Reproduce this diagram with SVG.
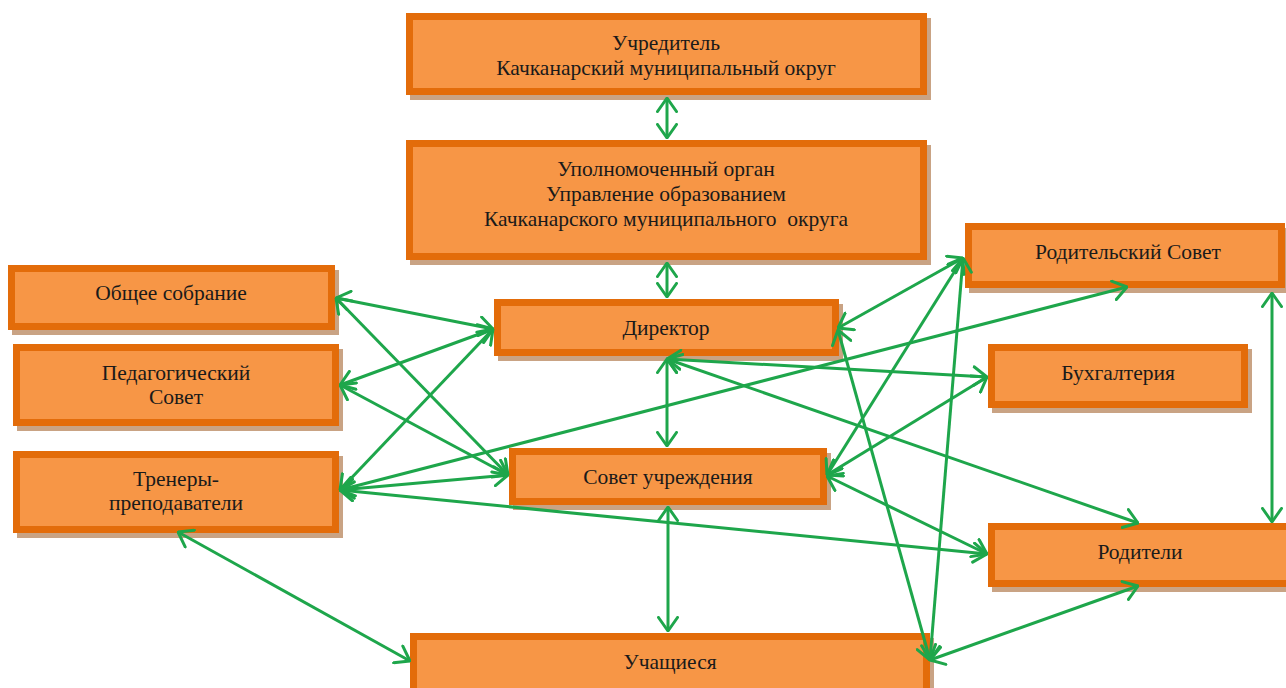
<svg xmlns="http://www.w3.org/2000/svg" width="1286" height="688" viewBox="0 0 1286 688">
<defs>
<style>
.sh{fill:#C9A384;}
.bx{fill:#F79646;stroke:#E36C0A;stroke-width:7;}
.t{font-family:"Liberation Serif","Times New Roman",serif;font-size:21.5px;fill:#1a1a1a;text-anchor:middle;}
.c{stroke:#1EA64B;stroke-width:3;fill:none;marker-start:url(#ah);marker-end:url(#ah);}
</style>
<marker id="ah" viewBox="0 0 16 22" refX="15" refY="11" markerWidth="16" markerHeight="22" markerUnits="userSpaceOnUse" orient="auto-start-reverse">
<path d="M1.5,1.5 L15,11 L1.5,20.5" fill="none" stroke="#1EA64B" stroke-width="3" stroke-linecap="round" stroke-linejoin="round"/>
</marker>
</defs>
<rect width="1286" height="688" fill="#ffffff"/>

<g id="uchreditel">
<rect class="sh" x="410" y="18" width="521" height="82"/>
<rect class="bx" x="409.5" y="16.5" width="514" height="75"/>
<text class="t" x="666" y="50">Учредитель</text>
<text class="t" x="666" y="75">Качканарский муниципальный округ</text>
</g>

<g id="upolnomochenny">
<rect class="sh" x="410" y="145" width="521" height="120"/>
<rect class="bx" x="409.5" y="143.5" width="514" height="113"/>
<text class="t" x="666" y="176">Уполномоченный орган</text>
<text class="t" x="666" y="201">Управление образованием</text>
<text class="t" x="666" y="226" xml:space="preserve">Качканарского муниципального  округа</text>
</g>

<g id="obshchee">
<rect class="sh" x="12" y="270" width="327" height="65"/>
<rect class="bx" x="11.5" y="268.5" width="320" height="58"/>
<text class="t" x="171" y="300">Общее собрание</text>
</g>

<g id="pedsovet">
<rect class="sh" x="17" y="349" width="326" height="82"/>
<rect class="bx" x="16.5" y="347.5" width="319" height="75"/>
<text class="t" x="176" y="380">Педагогический</text>
<text class="t" x="176" y="404">Совет</text>
</g>

<g id="trenery">
<rect class="sh" x="17" y="456" width="326" height="82"/>
<rect class="bx" x="16.5" y="454.5" width="319" height="75"/>
<text class="t" x="176" y="486">Тренеры-</text>
<text class="t" x="176" y="510">преподаватели</text>
</g>

<g id="direktor">
<rect class="sh" x="498" y="304" width="345" height="57"/>
<rect class="bx" x="497.5" y="302.5" width="338" height="50"/>
<text class="t" x="666" y="335">Директор</text>
</g>

<g id="sovet">
<rect class="sh" x="513" y="453" width="318" height="57"/>
<rect class="bx" x="512.5" y="451.5" width="311" height="50"/>
<text class="t" x="668" y="484">Совет учреждения</text>
</g>

<g id="rodsovet">
<rect class="sh" x="969" y="228" width="320" height="65"/>
<rect class="bx" x="968.5" y="226.5" width="313" height="58"/>
<text class="t" x="1128" y="259">Родительский Совет</text>
</g>

<g id="buhgalteria">
<rect class="sh" x="992" y="349" width="260" height="64"/>
<rect class="bx" x="991.5" y="347.5" width="253" height="57"/>
<text class="t" x="1118" y="380">Бухгалтерия</text>
</g>

<g id="roditeli">
<rect class="sh" x="992" y="528" width="297" height="64"/>
<rect class="bx" x="991.5" y="526.5" width="300" height="57"/>
<text class="t" x="1140" y="559">Родители</text>
</g>

<g id="uchashchiesya">
<rect class="sh" x="414" y="638" width="520" height="60"/>
<rect class="bx" x="413.5" y="636.5" width="513" height="55"/>
<text class="t" x="670" y="669">Учащиеся</text>
</g>

<g id="connectors">
<line class="c" x1="667" y1="98" x2="667" y2="138"/>
<line class="c" x1="667" y1="263" x2="667" y2="297"/>
<line class="c" x1="667" y1="359" x2="667" y2="446"/>
<line class="c" x1="668" y1="507" x2="668" y2="631"/>
<line class="c" x1="336" y1="298" x2="493" y2="329"/>
<line class="c" x1="336" y1="298" x2="508" y2="475"/>
<line class="c" x1="340" y1="385" x2="493" y2="329"/>
<line class="c" x1="340" y1="385" x2="508" y2="475"/>
<line class="c" x1="340" y1="490" x2="493" y2="329"/>
<line class="c" x1="340" y1="490" x2="508" y2="475"/>
<line class="c" x1="340" y1="490" x2="1127" y2="287"/>
<line class="c" x1="340" y1="490" x2="987" y2="554"/>
<line class="c" x1="178" y1="532" x2="410" y2="661"/>
<line class="c" x1="838" y1="328" x2="963" y2="258"/>
<line class="c" x1="827" y1="475" x2="963" y2="258"/>
<line class="c" x1="667" y1="359" x2="987" y2="377"/>
<line class="c" x1="827" y1="475" x2="987" y2="377"/>
<line class="c" x1="667" y1="359" x2="1138" y2="523"/>
<line class="c" x1="827" y1="476" x2="987" y2="554"/>
<line class="c" x1="838" y1="330" x2="930" y2="660"/>
<line class="c" x1="963" y1="258" x2="930" y2="660"/>
<line class="c" x1="1272" y1="293" x2="1272" y2="522"/>
<line class="c" x1="1138" y1="586" x2="930" y2="660"/>
</g>
</svg>
